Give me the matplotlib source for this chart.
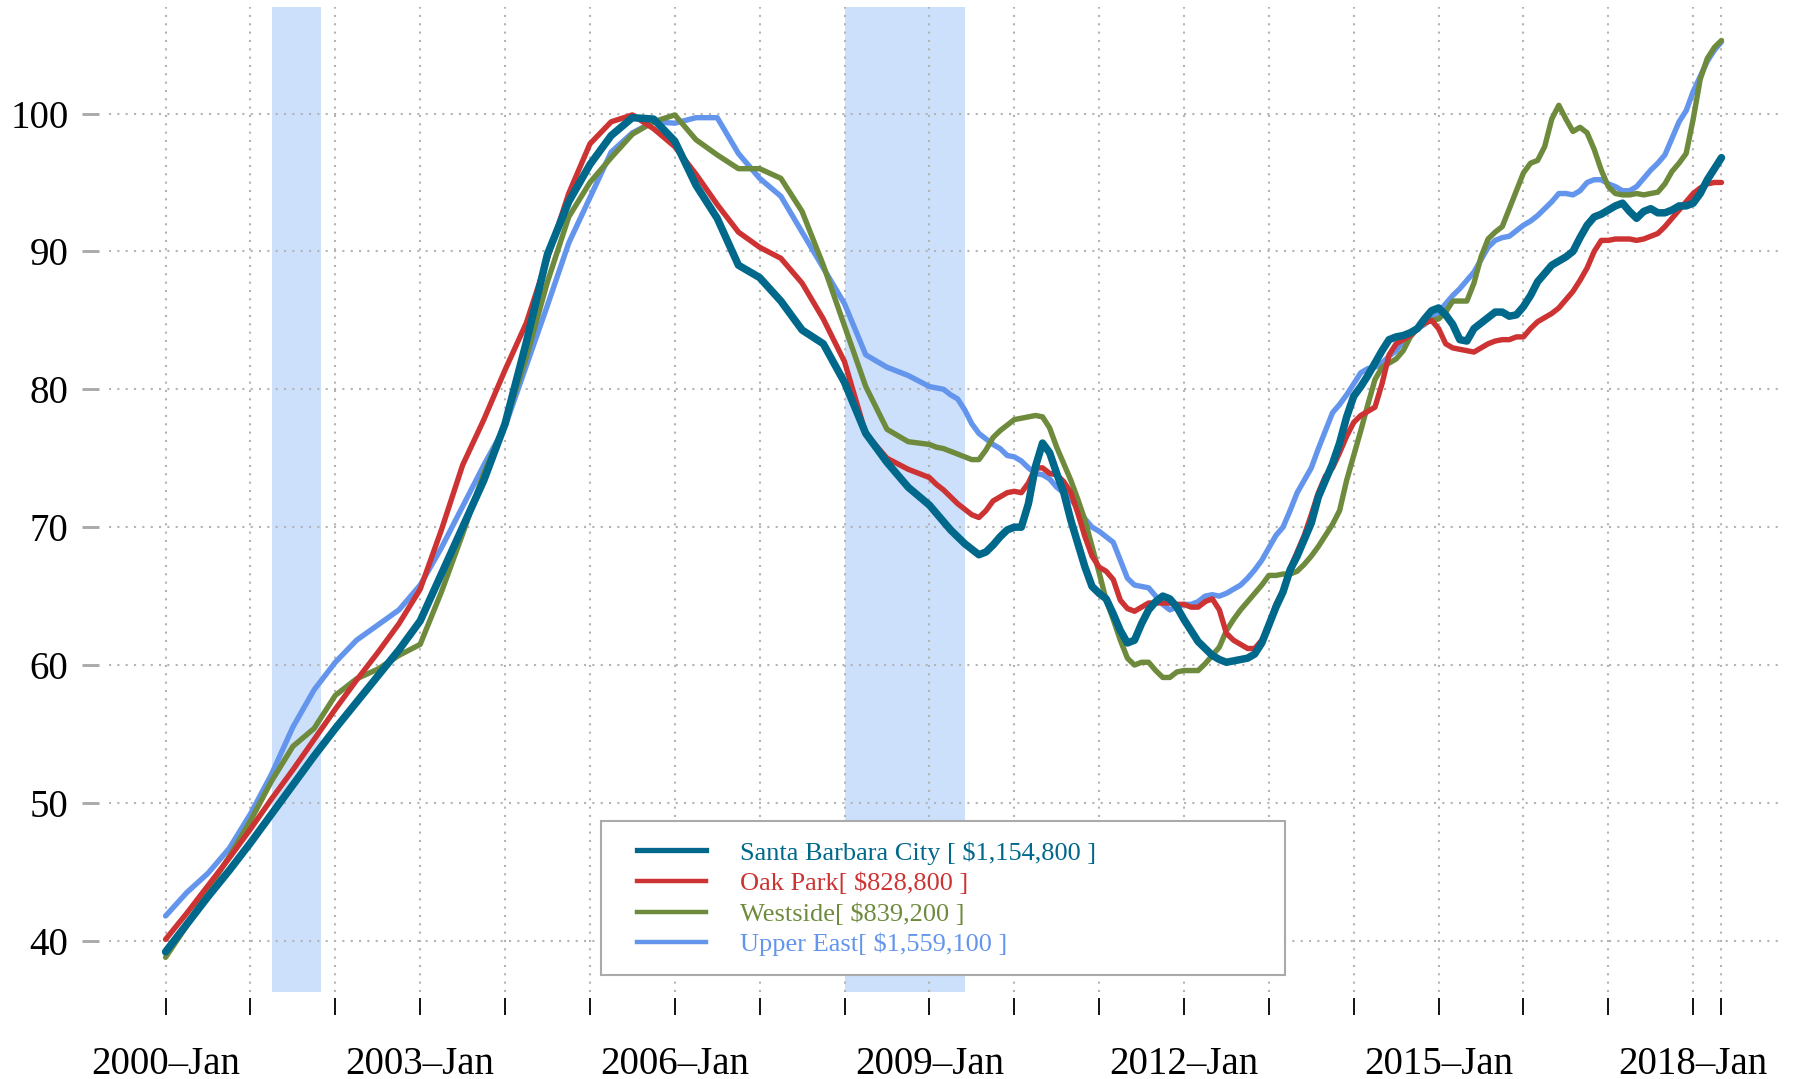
import matplotlib
matplotlib.use("Agg")
import matplotlib.pyplot as plt
from matplotlib.patches import Rectangle
import numpy as np

# month index (0 = 2000-Jan)
months = list(range(0, 109, 3)) + list(range(109, 221))

santa_barbara = [
    39.2, 41.2, 43.2, 45.1, 47.1, 49.2, 51.3, 53.4, 55.4, 57.3, 59.2, 61.1, 63.2,
    66.6, 70.0, 73.4, 77.5, 83.4, 89.8, 93.6, 96.3, 98.4, 99.7, 99.6, 98.0, 94.8,
    92.4, 89.0, 88.1, 86.4, 84.3, 83.3, 80.5, 76.8, 74.7, 72.9, 71.6,
    71.0, 70.4, 69.8, 69.3, 68.8, 68.4, 68.0, 68.2, 68.7, 69.3, 69.8, 70.0,
    70.0, 71.7, 74.4, 76.1, 75.4, 73.9, 72.5, 70.5, 68.8, 67.1, 65.7, 65.2,
    64.8, 63.7, 62.5, 61.6, 61.8, 63.0, 64.0, 64.6, 65.0, 64.8, 64.2, 63.3,
    62.5, 61.7, 61.2, 60.7, 60.4, 60.2, 60.3, 60.4, 60.5, 60.8, 61.6, 62.9,
    64.2, 65.3, 66.9, 67.9, 69.1, 70.3, 72.2, 73.4, 74.6, 76.1, 78.0, 79.5,
    80.2, 81.0, 81.9, 82.8, 83.6, 83.8, 83.9, 84.1, 84.4, 85.1, 85.7, 85.9,
    85.4, 84.7, 83.6, 83.5, 84.4, 84.8, 85.2, 85.6, 85.6, 85.3, 85.4, 86.0,
    86.8, 87.8, 88.4, 89.0, 89.3, 89.6, 90.0, 91.0, 91.9, 92.5, 92.7, 93.0,
    93.3, 93.5, 92.9, 92.4, 92.9, 93.1, 92.8, 92.8, 93.0, 93.3, 93.3, 93.5,
    94.2, 95.2, 96.0, 96.8]

oak_park = [
    40.1, 42.0, 44.0, 46.0, 48.1, 50.3, 52.4, 54.6, 56.8, 58.9, 60.9, 63.0, 65.5,
    69.8, 74.5, 77.8, 81.4, 84.8, 89.5, 94.2, 97.8, 99.4, 99.9, 98.9, 97.6, 95.6,
    93.4, 91.4, 90.3, 89.5, 87.7, 85.1, 82.0, 76.8, 75.0, 74.2, 73.6,
    73.1, 72.7, 72.2, 71.7, 71.3, 70.9, 70.7, 71.2, 71.9, 72.2, 72.5, 72.6,
    72.5, 73.2, 74.3, 74.3, 73.9, 73.8, 73.3, 72.5, 71.0, 69.3, 67.9, 67.1,
    66.8, 66.2, 64.7, 64.1, 63.9, 64.2, 64.5, 64.5, 64.5, 64.5, 64.4, 64.4,
    64.2, 64.2, 64.6, 64.8, 64.0, 62.3, 61.8, 61.5, 61.2, 61.2, 61.8, 62.8,
    64.4, 65.4, 67.0, 68.2, 69.4, 70.9, 72.5, 73.7, 74.3, 75.4, 76.6, 77.6,
    78.1, 78.4, 78.7, 80.4, 82.5, 83.3, 83.6, 83.9, 84.4, 84.8, 85.0, 84.4,
    83.3, 83.0, 82.9, 82.8, 82.7, 83.0, 83.3, 83.5, 83.6, 83.6, 83.8, 83.8,
    84.4, 84.9, 85.2, 85.5, 85.9, 86.5, 87.1, 87.9, 88.8, 90.0, 90.8, 90.8,
    90.9, 90.9, 90.9, 90.8, 90.9, 91.1, 91.3, 91.8, 92.4, 93.0, 93.6, 94.2,
    94.6, 94.9, 95.0, 95.0]

westside = [
    38.8, 41.1, 43.7, 46.1, 48.7, 51.6, 54.1, 55.4, 57.8, 59.0, 59.7, 60.7, 61.5,
    65.3, 69.5, 73.9, 77.5, 82.3, 87.8, 92.5, 95.0, 96.8, 98.5, 99.4, 99.9, 98.1,
    97.0, 96.0, 96.0, 95.3, 92.9, 89.0, 84.6, 80.2, 77.1, 76.2, 76.0,
    75.8, 75.7, 75.5, 75.3, 75.1, 74.9, 74.9, 75.6, 76.5, 77.0, 77.4, 77.8,
    77.9, 78.0, 78.1, 78.0, 77.2, 75.8, 74.6, 73.4, 72.0, 70.5, 68.6, 66.7,
    64.7, 63.3, 61.8, 60.5, 60.0, 60.2, 60.2, 59.6, 59.1, 59.1, 59.5, 59.6,
    59.6, 59.6, 60.1, 60.7, 61.3, 62.5, 63.3, 64.0, 64.6, 65.2, 65.8, 66.5,
    66.5, 66.6, 66.6, 66.8, 67.3, 67.9, 68.6, 69.4, 70.2, 71.2, 73.4, 75.2,
    77.0, 78.9, 80.7, 81.6, 81.9, 82.2, 82.8, 83.8, 84.4, 84.8, 85.0, 85.1,
    85.6, 86.4, 86.4, 86.4, 87.7, 89.6, 90.9, 91.4, 91.8, 93.1, 94.4, 95.7,
    96.4, 96.6, 97.6, 99.6, 100.6, 99.6, 98.7, 99.0, 98.6, 97.4, 95.9, 94.7,
    94.2, 94.1, 94.1, 94.2, 94.1, 94.2, 94.3, 94.9, 95.8, 96.4, 97.1, 99.6,
    102.5, 104.0, 104.8, 105.3]

upper_east = [
    41.8, 43.5, 44.9, 46.7, 49.2, 52.1, 55.5, 58.2, 60.2, 61.8, 62.9, 64.0, 65.8,
    68.5, 71.5, 74.5, 77.3, 81.7, 86.1, 90.6, 93.9, 97.2, 98.6, 99.4, 99.3, 99.7,
    99.7, 97.1, 95.3, 94.0, 91.4, 88.8, 86.2, 82.5, 81.6, 81.0, 80.2,
    80.1, 80.0, 79.6, 79.3, 78.5, 77.5, 76.8, 76.4, 76.0, 75.7, 75.2, 75.1,
    74.8, 74.3, 73.9, 73.8, 73.5, 72.9, 72.5, 72.0, 71.4, 70.6, 70.0, 69.7,
    69.3, 68.9, 67.6, 66.3, 65.8, 65.7, 65.6, 65.0, 64.4, 64.0, 64.2, 64.4,
    64.4, 64.6, 65.0, 65.1, 65.0, 65.2, 65.5, 65.8, 66.3, 66.9, 67.6, 68.5,
    69.4, 70.0, 71.2, 72.5, 73.4, 74.3, 75.7, 77.0, 78.3, 78.9, 79.6, 80.4,
    81.2, 81.5, 81.6, 81.9, 82.4, 82.8, 83.5, 84.1, 84.4, 84.7, 85.1, 85.6,
    86.2, 86.8, 87.3, 87.9, 88.5, 89.4, 90.3, 90.8, 91.0, 91.1, 91.5, 91.9,
    92.2, 92.6, 93.1, 93.6, 94.2, 94.2, 94.1, 94.4, 95.0, 95.2, 95.2, 94.9,
    94.7, 94.4, 94.4, 94.7, 95.3, 95.9, 96.4, 97.0, 98.2, 99.4, 100.2, 101.6,
    102.7, 103.8, 104.6, 105.2]

labels = ["Santa Barbara City [ $1,154,800 ]", "Oak Park[ $828,800 ]",
          "Westside[ $839,200 ]", "Upper East[ $1,559,100 ]"]
colors = ["#00688B", "#CD3333", "#6E8B3D", "#6495ED"]
recessions = [(15, 22), (96, 113)]  # month index start/end
x_ticks = list(range(0, 217, 12)) + [220]
x_tick_labels = [(f"{2000 + m // 12}\u2013Jan" if (m % 36 == 0 and m <= 216) else "")
                 for m in x_ticks]
y_ticks = [40, 50, 60, 70, 80, 90, 100]

plt.rcParams['font.family'] = ['Liberation Serif', 'DejaVu Serif']

fig = plt.figure(figsize=(17.94, 10.79), dpi=100)
ax = fig.add_axes([109 / 1794, 1 - 991.8 / 1079, 1672.6 / 1794, 984.7 / 1079])

ax.set_xlim(-8.0, 228.5)
ax.set_ylim(36.3, 107.72)

for s, e in recessions:
    ax.axvspan(s, e, color="#cce0fc", lw=0, zorder=0)

for xv in x_ticks:
    ax.axvline(xv, color="#b4b4b4", lw=1.5, ls=(0, (1, 3)), zorder=1)
for yv in y_ticks:
    ax.axhline(yv, color="#b4b4b4", lw=1.5, ls=(0, (1, 3)), zorder=1)

series = [santa_barbara, oak_park, westside, upper_east]
widths = [5.4, 3.9, 3.9, 3.9]
zorders = [6, 5, 4, 3]
for vals, lab, col, lw, zo in zip(series, labels, colors, widths, zorders):
    ax.plot(months, vals, color=col, lw=lw, label=lab, zorder=zo,
            solid_capstyle="round", solid_joinstyle="round")

for sp in ax.spines.values():
    sp.set_visible(False)
ax.spines['bottom'].set_position(('outward', 4.8))
ax.spines['left'].set_position(('outward', 7.2))

ax.set_xticks(x_ticks)
ax.set_xticklabels(x_tick_labels)
ax.set_yticks(y_ticks)
ax.set_yticklabels([str(v) for v in y_ticks])
ax.tick_params(axis='x', length=11.9, width=1.3, color='black', pad=22,
               labelsize=28, direction='out')
ax.tick_params(axis='y', length=11.9, width=2.1, color='#aaaaaa', pad=10,
               labelsize=28, direction='out', labelcolor='black')

# legend frame
ax.add_patch(Rectangle((0.294, 0.017), 0.409, 0.1565, transform=ax.transAxes,
                       facecolor='white', edgecolor='#aaaaaa', lw=1.5, zorder=7))
leg_handles = []
for col, lw in zip(colors, [3.8, 3.2, 3.2, 3.2]):
    l, = ax.plot([], [], color=col, lw=lw)
    leg_handles.append(l)
leg = ax.legend(leg_handles, labels, loc='upper left', bbox_to_anchor=(0.3154, 0.1530),
                frameon=False, fontsize=19.0, handlelength=2.65, handletextpad=1.28,
                labelspacing=0.27, borderpad=0, borderaxespad=0, labelcolor=colors)
leg.set_zorder(8)

fig.savefig("out.png", dpi=100)
